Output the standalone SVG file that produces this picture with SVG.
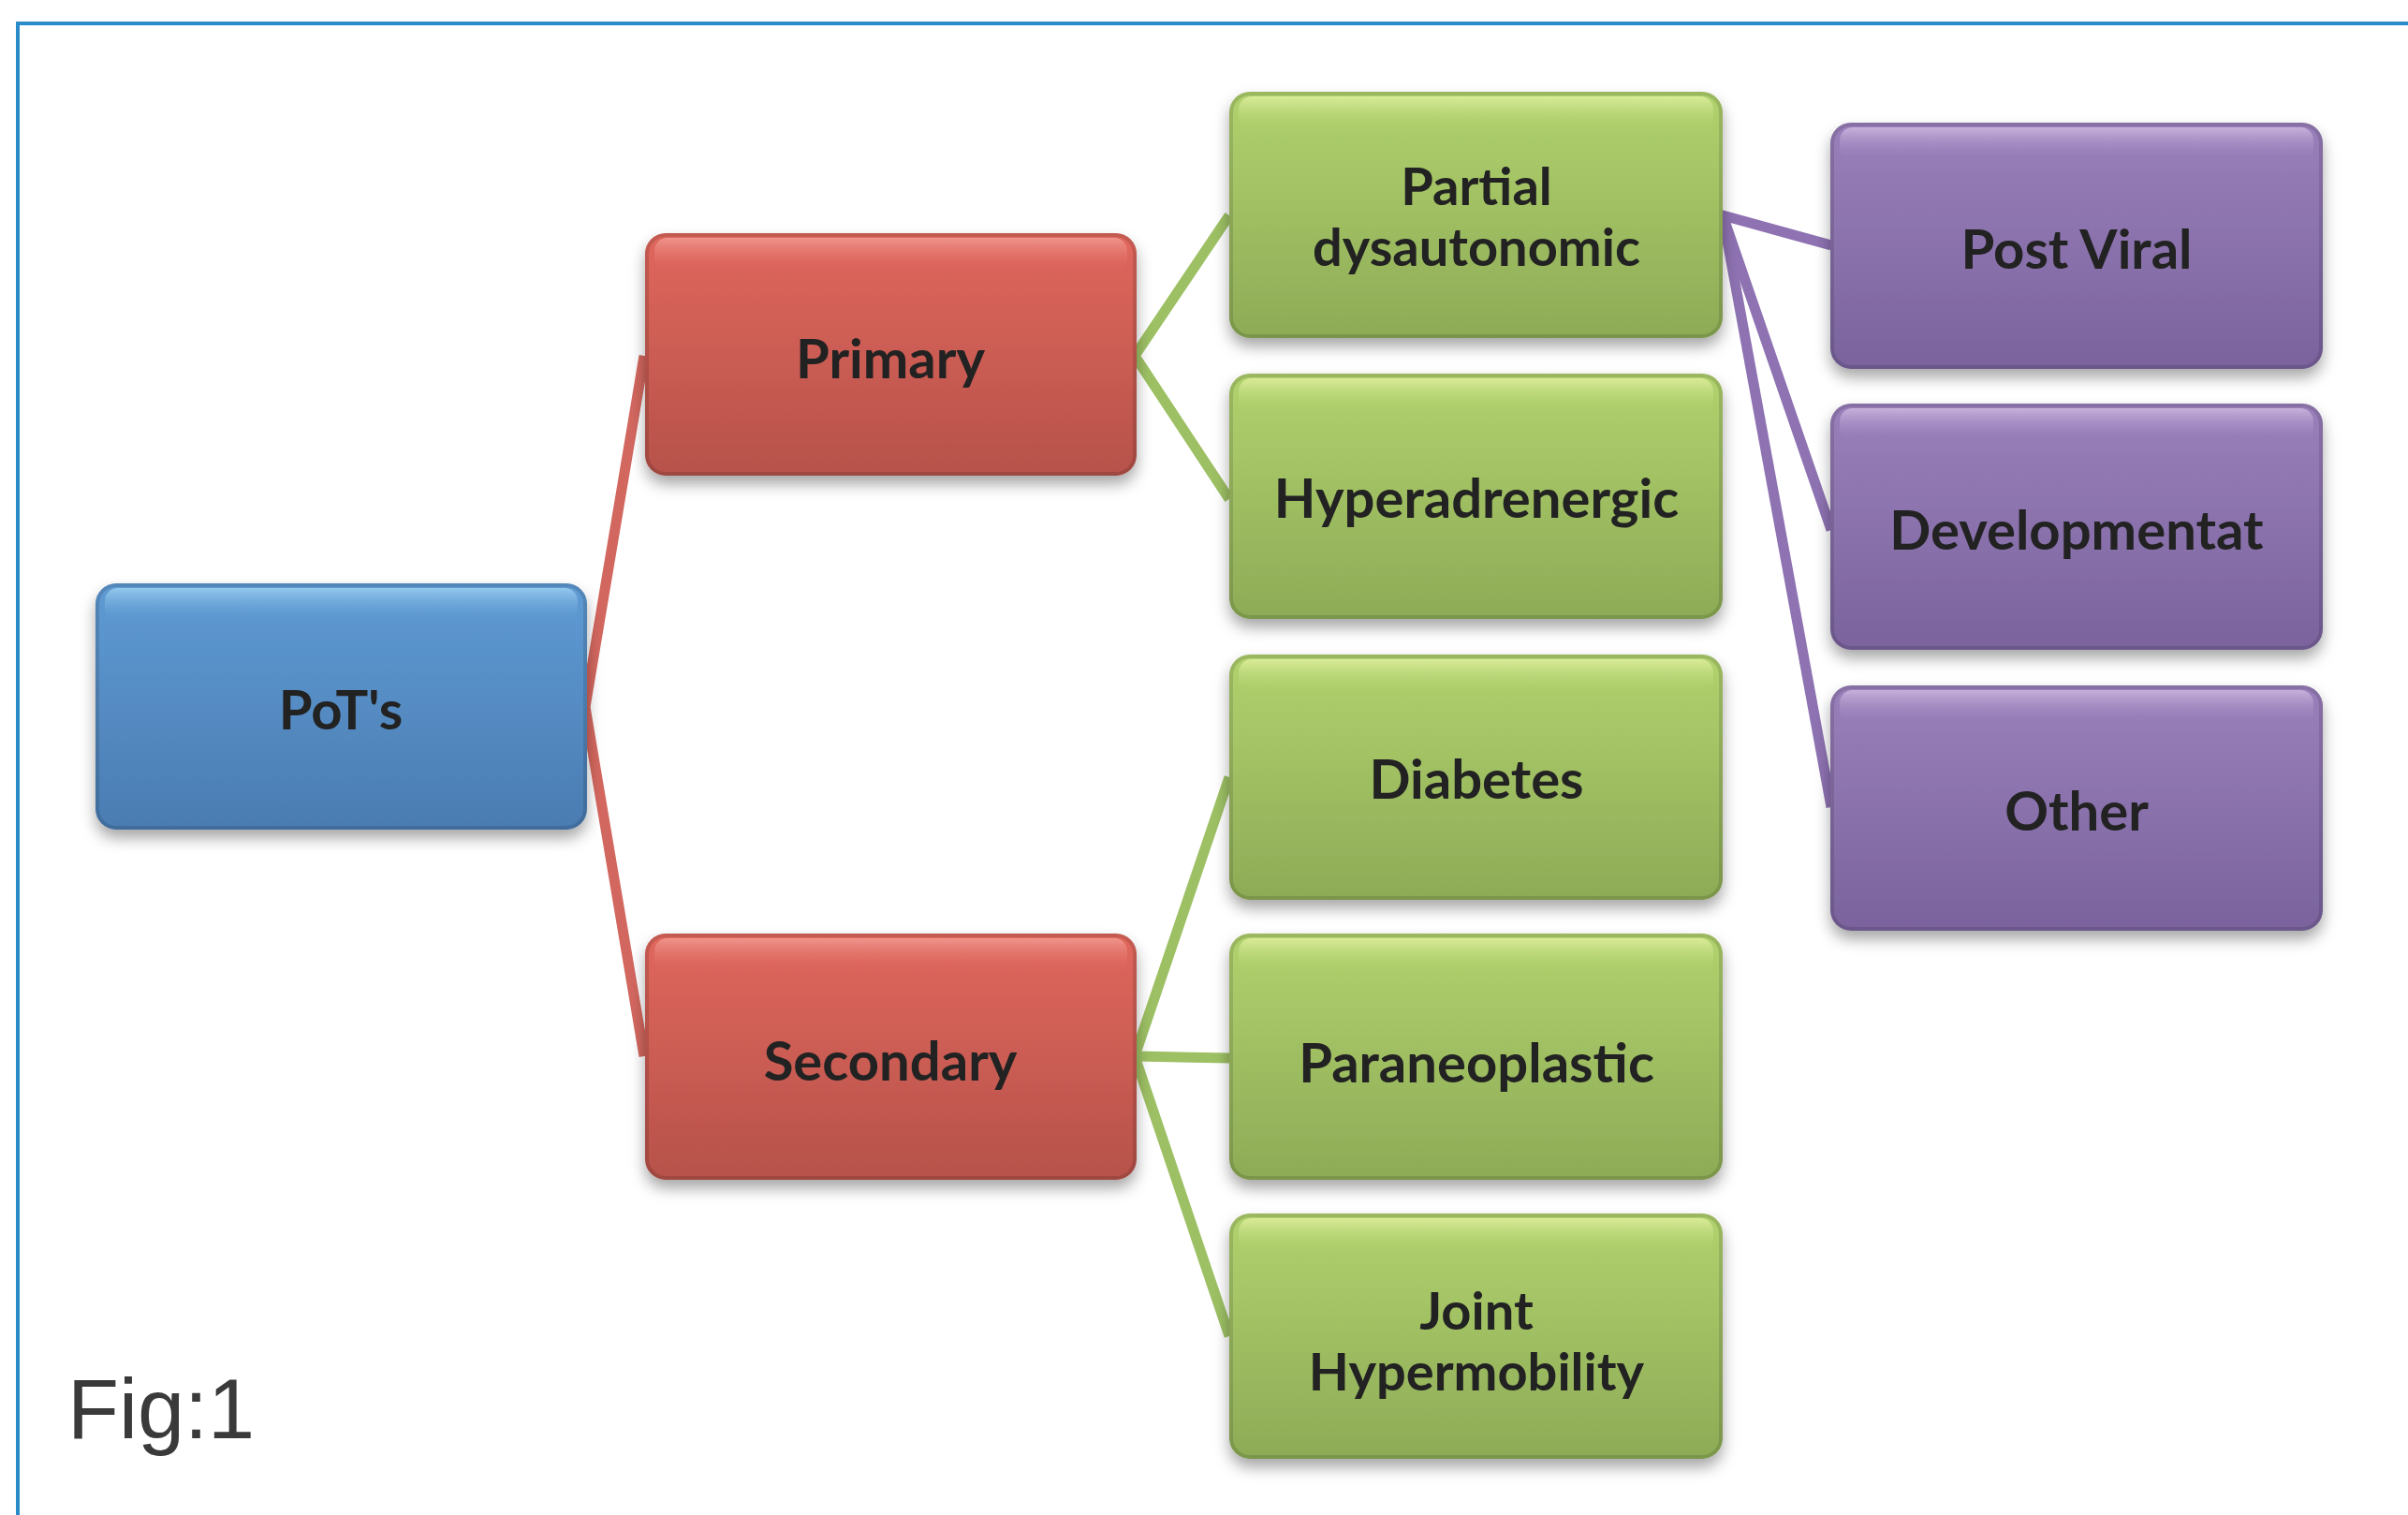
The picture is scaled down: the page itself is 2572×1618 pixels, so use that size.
<svg xmlns="http://www.w3.org/2000/svg" width="2572" height="1618" viewBox="0 0 2572 1618">
<style>
.lbl{font-family:Lato,"Open Sans","Liberation Sans",sans-serif;font-weight:700;font-size:58px;fill:#222;text-anchor:middle}
.l2{font-size:56px}
.hl{opacity:0.75}
.con{fill:none;stroke-width:11;stroke-linejoin:round;stroke-linecap:butt}
.edge{fill:none;stroke:#000;stroke-opacity:0.12;stroke-width:4}
</style>
<defs>
<filter id="sh" x="-10%" y="-10%" width="120%" height="130%">
<feDropShadow dx="0" dy="9" stdDeviation="8" flood-color="#000" flood-opacity="0.35"/>
</filter>
<linearGradient id="gBlue" x1="0" y1="0" x2="0" y2="1"><stop offset="0" stop-color="#5f9bd4"/><stop offset="1" stop-color="#4a7cb1"/></linearGradient>
<linearGradient id="gRed" x1="0" y1="0" x2="0" y2="1"><stop offset="0" stop-color="#e0675d"/><stop offset="1" stop-color="#b6524a"/></linearGradient>
<linearGradient id="gGreen" x1="0" y1="0" x2="0" y2="1"><stop offset="0" stop-color="#b1d26e"/><stop offset="1" stop-color="#8dab56"/></linearGradient>
<linearGradient id="gPurple" x1="0" y1="0" x2="0" y2="1"><stop offset="0" stop-color="#9a80bb"/><stop offset="1" stop-color="#7a639d"/></linearGradient>
<linearGradient id="hBlue" x1="0" y1="0" x2="0" y2="1"><stop offset="0" stop-color="#a6d8f5"/><stop offset="1" stop-color="#5f9bd4" stop-opacity="0"/></linearGradient>
<linearGradient id="hRed" x1="0" y1="0" x2="0" y2="1"><stop offset="0" stop-color="#f5a49c"/><stop offset="1" stop-color="#e0675d" stop-opacity="0"/></linearGradient>
<linearGradient id="hGreen" x1="0" y1="0" x2="0" y2="1"><stop offset="0" stop-color="#e8f4a8"/><stop offset="1" stop-color="#b1d26e" stop-opacity="0"/></linearGradient>
<linearGradient id="hPurple" x1="0" y1="0" x2="0" y2="1"><stop offset="0" stop-color="#d6c2e6"/><stop offset="1" stop-color="#9a80bb" stop-opacity="0"/></linearGradient>
</defs>
<rect width="2572" height="1618" fill="#fff"/>
<path d="M19,1618 V25 H2572" fill="none" stroke="#2a8bc9" stroke-width="4"/>

<g id="connectors">
<path class="con" stroke="#d2675f" d="M688,380 L625,755 L688,1128"/>
<path class="con" stroke="#9dc064" d="M1313,230 L1212,380 L1313,533"/>
<path class="con" stroke="#9dc064" d="M1313,830 L1212,1128 L1313,1427"/>
<path class="con" stroke="#9dc064" d="M1212,1128 L1313,1130"/>
<path class="con" stroke="#8e72b2" d="M1956,262 L1840,230 L1956,566"/>
<path class="con" stroke="#8e72b2" d="M1840,230 L1956,862"/>
</g>

<g id="n-pots">
<rect x="102" y="623" width="525" height="263" rx="22" fill="url(#gBlue)" filter="url(#sh)"/>
<rect x="112" y="628" width="505" height="36" rx="14" fill="url(#hBlue)" class="hl"/>
<rect x="104" y="625" width="521" height="259" rx="20" class="edge"/>
<text class="lbl" x="364" y="779">PoT's</text>
</g>
<g id="n-primary">
<rect x="689" y="249" width="525" height="259" rx="22" fill="url(#gRed)" filter="url(#sh)"/>
<rect x="699" y="254" width="505" height="36" rx="14" fill="url(#hRed)" class="hl"/>
<rect x="691" y="251" width="521" height="255" rx="20" class="edge"/>
<text class="lbl" x="951" y="404">Primary</text>
</g>
<g id="n-secondary">
<rect x="689" y="997" width="525" height="263" rx="22" fill="url(#gRed)" filter="url(#sh)"/>
<rect x="699" y="1002" width="505" height="36" rx="14" fill="url(#hRed)" class="hl"/>
<rect x="691" y="999" width="521" height="259" rx="20" class="edge"/>
<text class="lbl" x="951" y="1154">Secondary</text>
</g>
<g id="n-partial">
<rect x="1313" y="98" width="527" height="263" rx="22" fill="url(#gGreen)" filter="url(#sh)"/>
<rect x="1323" y="103" width="507" height="36" rx="14" fill="url(#hGreen)" class="hl"/>
<rect x="1315" y="100" width="523" height="259" rx="20" class="edge"/>
<text class="lbl l2" x="1577" y="219">Partial</text>
<text class="lbl l2" x="1577" y="284">dysautonomic</text>
</g>
<g id="n-hyper">
<rect x="1313" y="399" width="527" height="262" rx="22" fill="url(#gGreen)" filter="url(#sh)"/>
<rect x="1323" y="404" width="507" height="36" rx="14" fill="url(#hGreen)" class="hl"/>
<rect x="1315" y="401" width="523" height="258" rx="20" class="edge"/>
<text class="lbl" x="1577" y="553">Hyperadrenergic</text>
</g>
<g id="n-diabetes">
<rect x="1313" y="699" width="527" height="262" rx="22" fill="url(#gGreen)" filter="url(#sh)"/>
<rect x="1323" y="704" width="507" height="36" rx="14" fill="url(#hGreen)" class="hl"/>
<rect x="1315" y="701" width="523" height="258" rx="20" class="edge"/>
<text class="lbl" x="1577" y="853">Diabetes</text>
</g>
<g id="n-paraneo">
<rect x="1313" y="997" width="527" height="263" rx="22" fill="url(#gGreen)" filter="url(#sh)"/>
<rect x="1323" y="1002" width="507" height="36" rx="14" fill="url(#hGreen)" class="hl"/>
<rect x="1315" y="999" width="523" height="259" rx="20" class="edge"/>
<text class="lbl" x="1577" y="1156">Paraneoplastic</text>
</g>
<g id="n-joint">
<rect x="1313" y="1296" width="527" height="262" rx="22" fill="url(#gGreen)" filter="url(#sh)"/>
<rect x="1323" y="1301" width="507" height="36" rx="14" fill="url(#hGreen)" class="hl"/>
<rect x="1315" y="1298" width="523" height="258" rx="20" class="edge"/>
<text class="lbl l2" x="1577" y="1420">Joint</text>
<text class="lbl l2" x="1577" y="1485">Hypermobility</text>
</g>
<g id="n-postviral">
<rect x="1955" y="131" width="526" height="263" rx="22" fill="url(#gPurple)" filter="url(#sh)"/>
<rect x="1965" y="136" width="506" height="36" rx="14" fill="url(#hPurple)" class="hl"/>
<rect x="1957" y="133" width="522" height="259" rx="20" class="edge"/>
<text class="lbl" x="2218" y="287">Post Viral</text>
</g>
<g id="n-develop">
<rect x="1955" y="431" width="526" height="263" rx="22" fill="url(#gPurple)" filter="url(#sh)"/>
<rect x="1965" y="436" width="506" height="36" rx="14" fill="url(#hPurple)" class="hl"/>
<rect x="1957" y="433" width="522" height="259" rx="20" class="edge"/>
<text class="lbl" x="2218" y="587">Developmentat</text>
</g>
<g id="n-other">
<rect x="1955" y="732" width="526" height="262" rx="22" fill="url(#gPurple)" filter="url(#sh)"/>
<rect x="1965" y="737" width="506" height="36" rx="14" fill="url(#hPurple)" class="hl"/>
<rect x="1957" y="734" width="522" height="258" rx="20" class="edge"/>
<text class="lbl" x="2218" y="887">Other</text>
</g>

<text x="72" y="1536" font-family="Liberation Sans, Arial, sans-serif" font-size="90" fill="#3a3a3a">Fig:1</text>
</svg>
